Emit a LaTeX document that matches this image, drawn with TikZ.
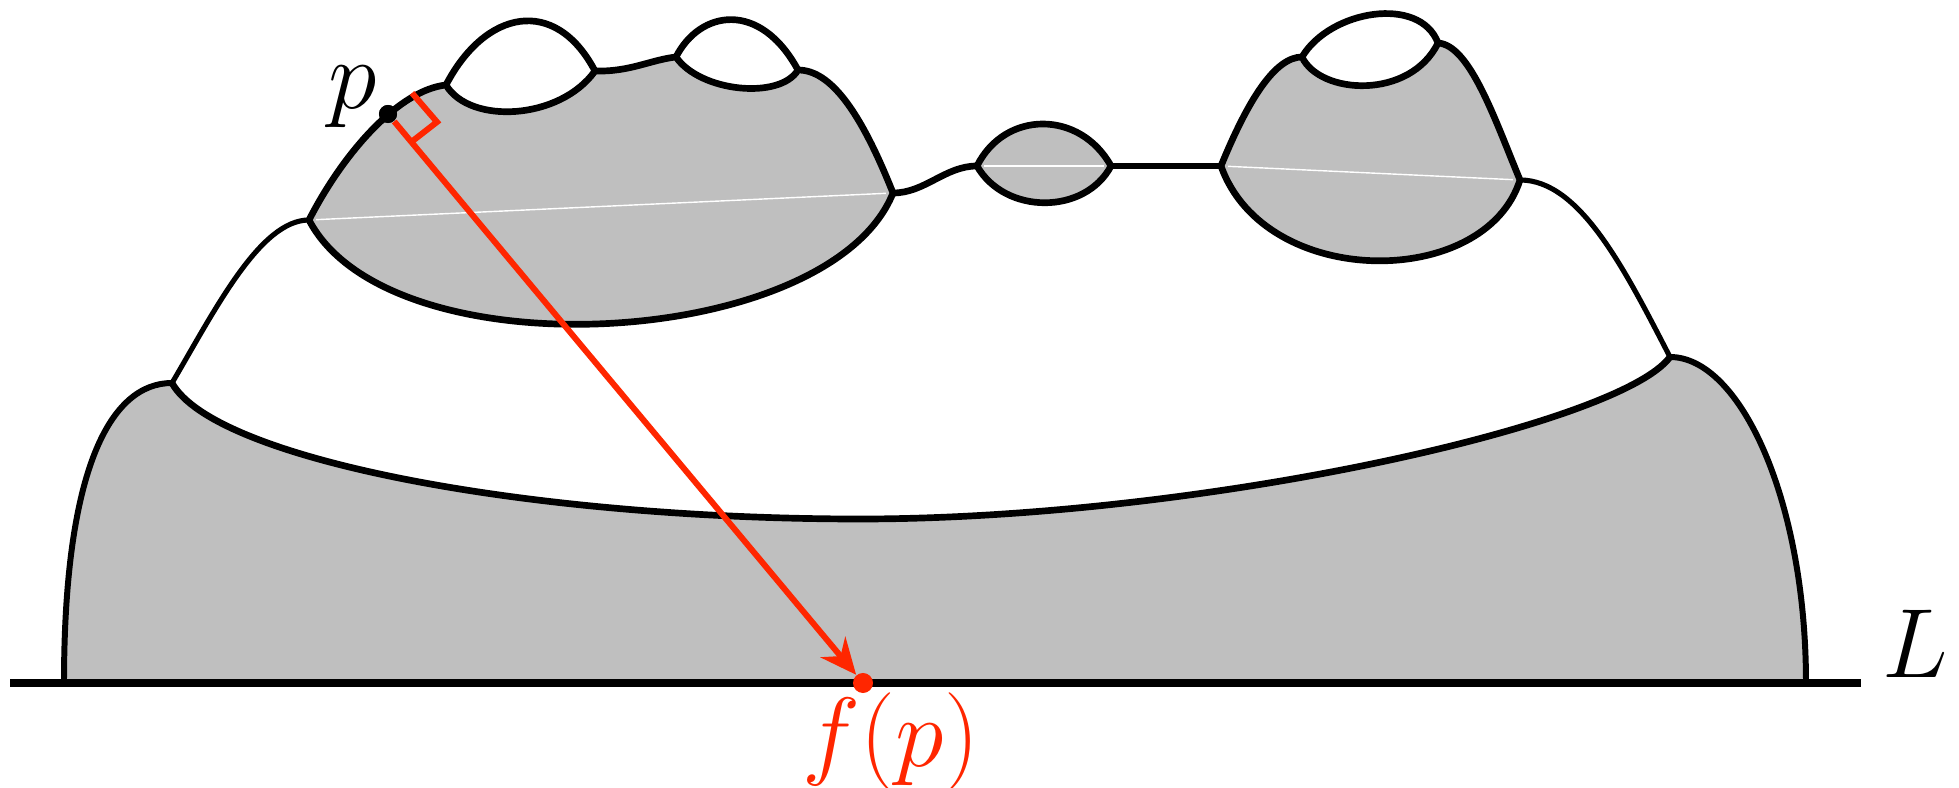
\documentclass[tikz,border=0pt]{standalone}
\usetikzlibrary{arrows.meta,calc}
\definecolor{BlobGray}{RGB}{191,191,191}
\definecolor{MapRed}{RGB}{255,38,0}

\begin{document}
\begin{tikzpicture}[x=0.01cm, y=-0.01cm,
    blob/.style={fill=BlobGray, draw=black, line width=1.9pt, line join=round},
    seam/.style={white, line width=0.4pt, shorten <=2pt, shorten >=2pt},
    rim/.style={black, line width=1.9pt},
    thinrim/.style={black, line width=1.45pt},
    sideline/.style={black, line width=1.7pt},
    lbl/.style={inner sep=0pt, font=\Huge, scale=1.125},
    dotblack/.style={circle, fill=black, inner sep=0pt, minimum size=0.18cm},
    dotred/.style={circle, fill=MapRed, inner sep=0pt, minimum size=0.2cm},
    maparr/.style={-{Stealth[length=0.36cm, width=0.32cm]}, MapRed, line width=1.7pt},
]
\useasboundingbox (0,0) rectangle (1959,788);

\coordinate (L0) at (10,683);
\coordinate (L1) at (1861,683);
\coordinate (BL) at (64,683);
\coordinate (BR) at (1806,683);
\coordinate (A) at (172,383);
\coordinate (B) at (1670,357);
\coordinate (Z) at (860,519);
\coordinate (C) at (309,220);
\coordinate (D) at (893,193);
\coordinate (H) at (446,85);
\coordinate (I) at (595,71);
\coordinate (J) at (676,57);
\coordinate (K) at (798,70);
\coordinate (M) at (977,166);
\coordinate (N) at (1111,166);
\coordinate (F) at (1221,166);
\coordinate (G) at (1520,180);
\coordinate (Q) at (1302,57);
\coordinate (R) at (1438,43);
\coordinate (P) at (388,114);

\fill[BlobGray] (BL) .. controls (64,470) and (110,383) .. (A)
    .. controls (215,460) and (530,519) .. (Z)
    .. controls (1200,519) and (1620,425) .. (B)
    .. controls (1740,357) and (1806,500) .. (BR) -- cycle;

\filldraw[blob] (C) .. controls (345,150) and (400,90) .. (H)
    .. controls (470,125) and (560,120) .. (I)
    .. controls (630,72) and (650,60) .. (J)
    .. controls (700,92) and (780,100) .. (K)
    .. controls (830,70) and (860,110) .. (D)
    .. controls (830,350) and (390,375) .. (C) -- cycle;
\filldraw[blob] (M) .. controls (1005,110) and (1080,110) .. (N)
    .. controls (1085,215) and (1005,215) .. (M) -- cycle;
\filldraw[blob] (F) .. controls (1248,100) and (1275,57) .. (Q)
    .. controls (1320,95) and (1410,100) .. (R)
    .. controls (1470,45) and (1495,120) .. (G)
    .. controls (1485,290) and (1265,290) .. (F) -- cycle;

\draw[seam] (C) -- (D);
\draw[seam] (M) -- (N);
\draw[seam] (F) -- (G);

\draw[rim] (H) .. controls (485,10) and (555,-5) .. (I);
\draw[rim] (J) .. controls (700,10) and (760,0) .. (K);
\draw[rim] (Q) .. controls (1330,10) and (1420,-5) .. (R);

\draw[thinrim] (A) .. controls (215,310) and (260,220) .. (C);
\draw[rim] (D) .. controls (925,193) and (945,166) .. (M);
\draw[rim] (N) -- (F);
\draw[thinrim] (G) .. controls (1580,180) and (1625,270) .. (B);

\draw[sideline] (BL) .. controls (64,470) and (110,383) .. (A);
\draw[sideline] (B) .. controls (1740,357) and (1806,500) .. (BR);
\draw[rim] (A) .. controls (215,460) and (530,519) .. (Z)
    .. controls (1200,519) and (1620,425) .. (B);
\draw[line width=2pt] (L0) -- (L1);

\node[dotred] (fpdot) at (863,683) {};
\node[dotblack] (pdot) at (P) {};
\draw[maparr] (pdot) -- (fpdot);
\draw[MapRed, line width=1.7pt] (412,93) -- (437,122) -- (410,143);
\node[dotblack] at (P) {};

\node[lbl] (plabel) at (353,97) {$p$};
\node[lbl] (llabel) at (1915,644) {$L$};
\node[lbl, text=MapRed] (fplabel) at (891,742) {$f(p)$};
\end{tikzpicture}
\end{document}
